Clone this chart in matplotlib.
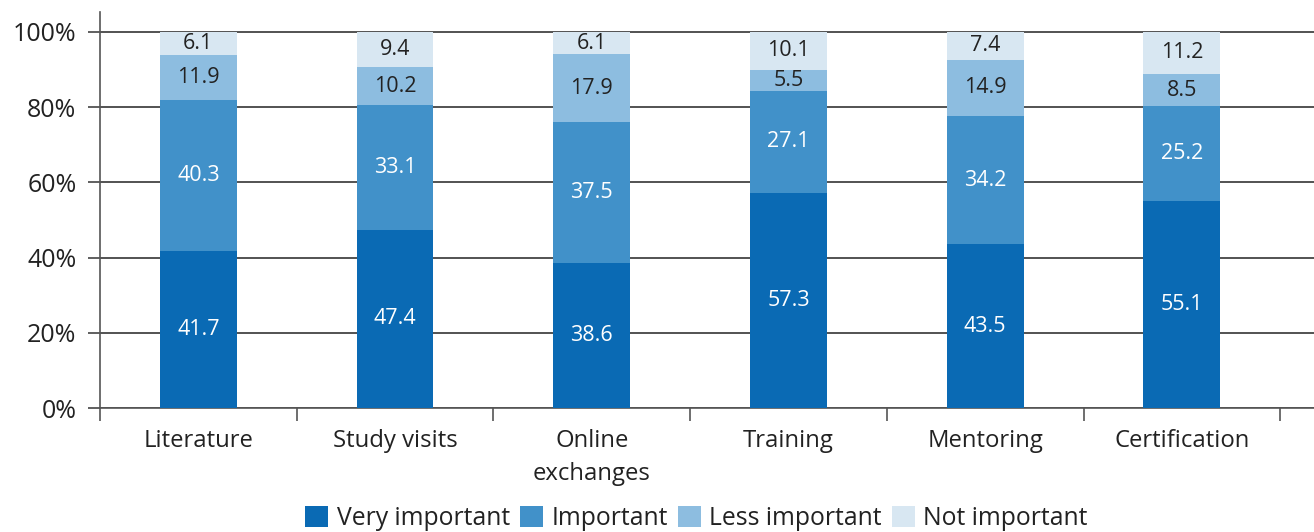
import matplotlib
matplotlib.use("Agg")
import matplotlib.pyplot as plt
import numpy as np
from matplotlib.patches import Patch

categories = ["Literature", "Study visits", "Online\nexchanges", "Training", "Mentoring", "Certification"]
very_important = [41.7, 47.4, 38.6, 57.3, 43.5, 55.1]
important = [40.3, 33.1, 37.5, 27.1, 34.2, 25.2]
less_important = [11.9, 10.2, 17.9, 5.5, 14.9, 8.5]
not_important = [6.1, 9.4, 6.1, 10.1, 7.4, 11.2]
series_names = ["Very important", "Important", "Less important", "Not important"]
yticks = [0, 20, 40, 60, 80, 100]
ytick_labels = ["0%", "20%", "40%", "60%", "80%", "100%"]

colors = ["#0a6ab4", "#4191c9", "#8dbde0", "#d8e7f2"]
text_colors = ["white", "white", "#222222", "#222222"]

plt.rcParams['font.family'] = ['Open Sans', 'DejaVu Sans']

fig = plt.figure(figsize=(13.14, 5.32), dpi=100)
ax = fig.add_axes([100/1314, 1-408/532, 1-100/1314, (408-12)/532])

x = np.arange(len(categories))
width = 0.39
bottom = np.zeros(len(categories))
series = [very_important, important, less_important, not_important]
for vals, col, tc, name in zip(series, colors, text_colors, series_names):
    vals = np.array(vals)
    ax.bar(x, vals, width, bottom=bottom, color=col, zorder=3, label=name)
    for xi, b, v in zip(x, bottom, vals):
        ax.text(xi, b + v/2, f"{v:.1f}", ha="center", va="center",
                color=tc, fontsize=15.5, zorder=4)
    bottom += vals

ax.set_ylim(0, 105.3)
ax.set_xlim(-0.5, (1314-100)/196.7 - 0.5)
ax.set_yticks(yticks)
ax.set_yticklabels(ytick_labels, fontsize=18, color="#222222")
ax.set_xticks(x)
ax.set_xticklabels(categories, fontsize=17.2, color="#222222", linespacing=1.5)
ax.tick_params(axis="x", which="major", length=0, pad=15)
ax.set_xticks(np.arange(-0.5, len(categories), 1.0), minor=True)
ax.tick_params(axis="x", which="minor", length=9.5, width=1.2, color="#555555", direction="out")
ax.tick_params(axis="y", length=9, width=1.2, color="#444444", pad=8)

ax.grid(axis="y", color="#444444", linewidth=1.3, zorder=0)
for s in ["top", "right"]:
    ax.spines[s].set_visible(False)
for s in ["left", "bottom"]:
    ax.spines[s].set_color("#555555")
    ax.spines[s].set_linewidth(1.2)

handles = [Patch(facecolor=c, edgecolor="none") for c in colors]
fig.legend(handles, series_names, loc="lower center", bbox_to_anchor=(0.530, -0.04),
           ncol=4, frameon=False, fontsize=17.8, handlelength=0.93, handleheight=0.93,
           handletextpad=0.35, columnspacing=0.4, labelcolor="#222222")

fig.savefig("out.png", dpi=100)
